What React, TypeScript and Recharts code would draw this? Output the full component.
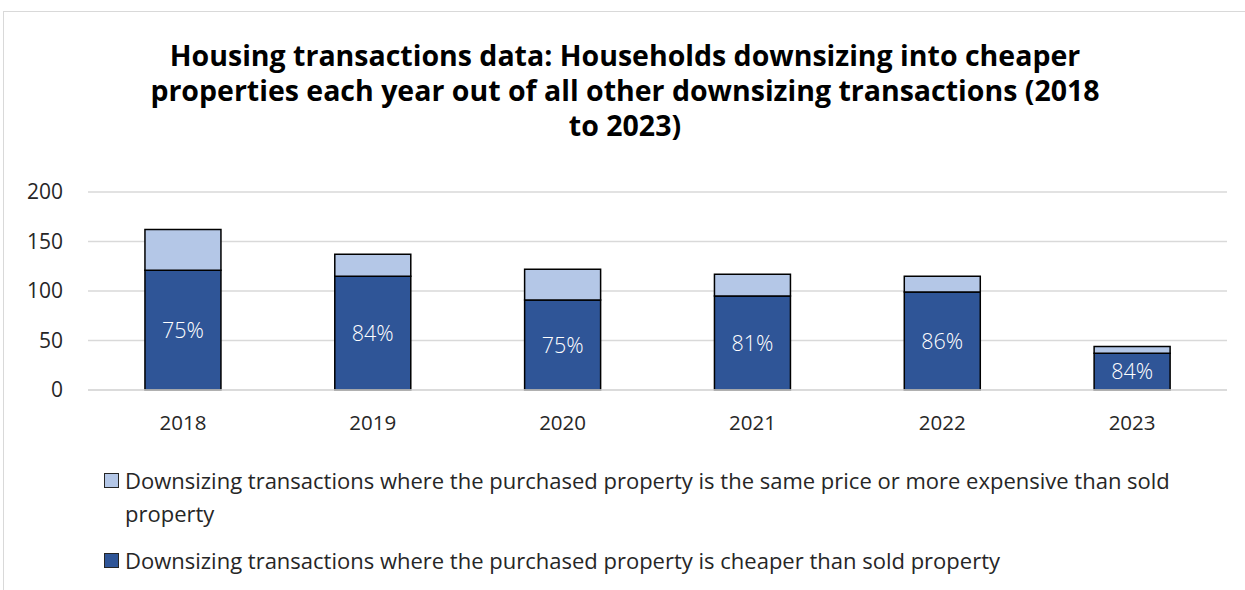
import React from 'react';
import { BarChart, Bar, XAxis, YAxis, CartesianGrid, LabelList } from 'recharts';

const years = ['2018', '2019', '2020', '2021', '2022', '2023'];
const cheaper = [121, 115, 91, 95, 99, 37];
const samePriceOrMore = [41, 22, 31, 22, 16, 7];
const pctLabels = ['75%', '84%', '75%', '81%', '86%', '84%'];
const yTicks = [0, 50, 100, 150, 200];

const titleLines = [
  'Housing transactions data: Households downsizing into cheaper',
  'properties each year out of all other downsizing transactions (2018',
  'to 2023)',
];
const legendOther = 'Downsizing transactions where the purchased property is the same price or more expensive than sold property';
const legendCheaper = 'Downsizing transactions where the purchased property is cheaper than sold property';

const DARK = '#2F5597';
const LIGHT = '#B4C7E7';
const FONT = '"Open Sans", "Noto Sans", sans-serif';

const data = years.map((y, i) => ({
  year: y,
  cheaper: cheaper[i],
  other: samePriceOrMore[i],
  pct: pctLabels[i],
}));

export default function App() {
  return (
    <div style={{ position: 'absolute', left: 0, top: 0, width: 1245, height: 590, overflow: 'hidden', background: '#fff', fontFamily: FONT }}>
      <div style={{ position: 'absolute', left: 3, top: 11, width: 1400, height: 700, border: '1px solid #d9d9d9', boxSizing: 'border-box' }} />
      <div style={{ position: 'absolute', left: 0, top: 38, width: 1250, textAlign: 'center', fontWeight: 700, fontSize: 28.5, lineHeight: '35px', color: '#000' }}>
        {titleLines.map((l, i) => (
          <div key={i}>{l}</div>
        ))}
      </div>
      <div style={{ position: 'absolute', left: 0, top: 0 }}>
        <BarChart width={1245} height={590} data={data} margin={{ top: 192, right: 18, bottom: 170, left: 18 }} barCategoryGap="30%">
          <CartesianGrid vertical={false} stroke="#d9d9d9" strokeWidth={1.5} />
          <XAxis dataKey="year" axisLine={{ stroke: '#d9d9d9', strokeWidth: 1.5 }} tickLine={false} height={30} tickMargin={19} tick={{ fontSize: 20.5, fill: '#262626', fontFamily: FONT }} />
          <YAxis width={70} domain={[0, 200]} ticks={yTicks} axisLine={false} tickLine={false} tickMargin={19} tick={{ fontSize: 21, fill: '#262626', fontFamily: FONT }} />
          <Bar dataKey="cheaper" stackId="a" fill={DARK} stroke="#000" strokeWidth={1.5} isAnimationActive={false}>
            <LabelList dataKey="pct" position="center" fill="#fff" fontSize={21.5} fontWeight={300} fontFamily={FONT} />
          </Bar>
          <Bar dataKey="other" stackId="a" fill={LIGHT} stroke="#000" strokeWidth={1.5} isAnimationActive={false} />
        </BarChart>
      </div>
      <div style={{ position: 'absolute', left: 104, top: 464, width: 1120, fontSize: 22, lineHeight: '33px', color: '#262626' }}>
        <div style={{ display: 'flex', alignItems: 'flex-start' }}>
          <span style={{ display: 'inline-block', width: 13, height: 13, background: LIGHT, border: '1.5px solid #262626', marginTop: 9, marginRight: 6, flexShrink: 0 }} />
          <span style={{ width: 1090 }}>{legendOther}</span>
        </div>
        <div style={{ display: 'flex', alignItems: 'flex-start', marginTop: 14 }}>
          <span style={{ display: 'inline-block', width: 13, height: 13, background: DARK, border: '1.5px solid #262626', marginTop: 9, marginRight: 6, flexShrink: 0 }} />
          <span>{legendCheaper}</span>
        </div>
      </div>
    </div>
  );
}
